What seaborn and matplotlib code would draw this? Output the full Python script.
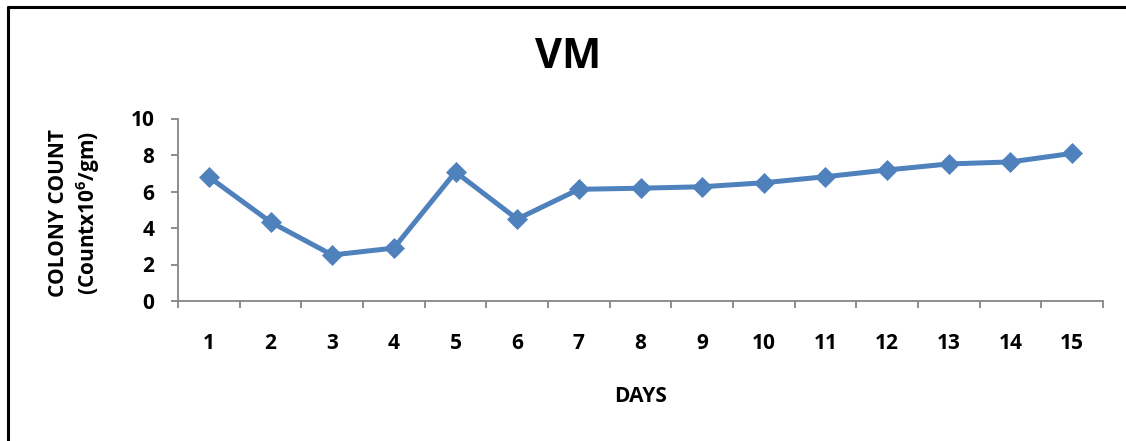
import matplotlib
matplotlib.use("Agg")
import matplotlib.pyplot as plt
from matplotlib.lines import Line2D
from matplotlib.ticker import FixedLocator
import seaborn as sns
import pandas as pd

days = list(range(1, 16))
colony_count = [6.8, 4.33, 2.52, 2.9, 7.07, 4.49, 6.12, 6.18, 6.26, 6.48, 6.81, 7.18, 7.51, 7.62, 8.09]
y_ticks = [0, 2, 4, 6, 8, 10]

df = pd.DataFrame({"DAYS": days, "COUNT": colony_count})

sns.set_theme(style="white")
plt.rcParams["font.family"] = ["Open Sans", "DejaVu Sans"]
plt.rcParams["font.weight"] = "bold"
plt.rcParams["text.color"] = "black"
plt.rcParams["axes.labelcolor"] = "black"
plt.rcParams["mathtext.fontset"] = "custom"
plt.rcParams["mathtext.bf"] = "Open Sans:bold"
plt.rcParams["mathtext.rm"] = "Open Sans:bold"
plt.rcParams["mathtext.default"] = "bf"

W, H = 1126, 441
fig = plt.figure(figsize=(W / 100, H / 100), dpi=100)
ax_left, ax_right, ax_top, ax_bottom = 178, 1103, 118.5, 301
ax = fig.add_axes([ax_left / W, 1 - ax_bottom / H, (ax_right - ax_left) / W, (ax_bottom - ax_top) / H])

line_color = "#4F81BD"
sns.lineplot(data=df, x="DAYS", y="COUNT", ax=ax, color=line_color, linewidth=3.6,
             marker="D", markersize=10, markeredgecolor=line_color, markeredgewidth=0.5)

ax.set_xlim(0.5, 15.5)
ax.set_ylim(0, 10)
ax.set_yticks(y_ticks)
ax.set_yticklabels([str(v) for v in y_ticks], fontsize=15, fontweight="bold", color="black")
ax.set_xticks(days)
ax.set_xticklabels([str(d) for d in days], fontsize=15, fontweight="bold", color="black")
ax.xaxis.set_minor_locator(FixedLocator([d + 0.5 for d in range(0, 16)]))
ax.tick_params(axis="x", which="major", length=0, pad=23)
ax.tick_params(axis="x", which="minor", bottom=True, length=5, width=1.3, color="#868686")
ax.tick_params(axis="y", which="major", left=True, length=5, width=1.3, color="#868686", pad=12)

for side in ["top", "right"]:
    ax.spines[side].set_visible(False)
for side in ["left", "bottom"]:
    ax.spines[side].set_color("#868686")
    ax.spines[side].set_linewidth(1.3)
ax.grid(False)
ax.set_xlabel("")
ax.set_ylabel("COLONY COUNT\n(Countx10$^{6}$/gm)", fontsize=15, fontweight="bold",
              linespacing=1.25)
ax.yaxis.set_label_coords((102 - ax_left) / (ax_right - ax_left), 0.48)

fig.text(568 / W, 1 - 57 / H, "VM", ha="center", va="center",
         fontsize=30, fontweight="bold")
fig.text(641 / W, 1 - 396 / H, "DAYS", ha="center", va="center",
         fontsize=15, fontweight="bold")

# frame edges along the top and left
fig.add_artist(Line2D([8 / W, 1], [1 - 7 / H, 1 - 7 / H], transform=fig.transFigure,
                      color="black", linewidth=2.2))
fig.add_artist(Line2D([8 / W, 8 / W], [0, 1 - 7 / H], transform=fig.transFigure,
                      color="black", linewidth=2.2))

fig.savefig("out.png", dpi=100, facecolor="white")
